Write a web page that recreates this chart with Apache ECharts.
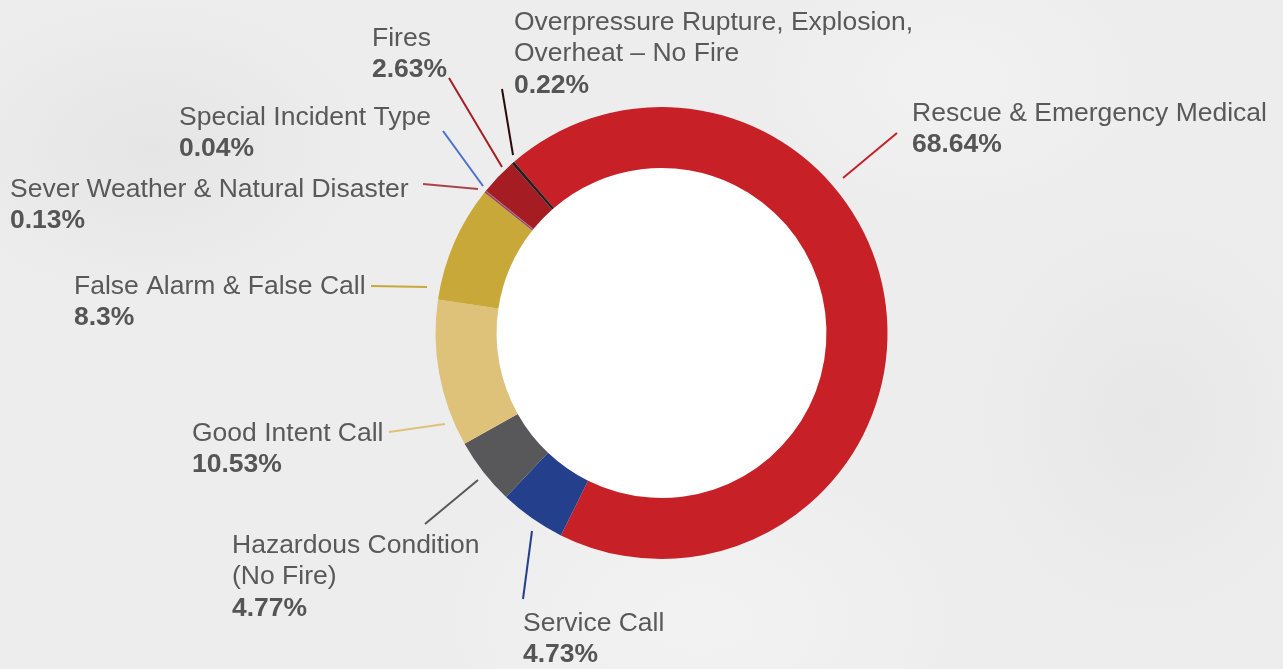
<!DOCTYPE html>
<html>
<head>
<meta charset="utf-8">
<script src="https://cdn.jsdelivr.net/npm/echarts@6/dist/echarts.min.js"></script>
<style>
  html, body { margin: 0; padding: 0; }
  body {
    width: 1283px; height: 669px; overflow: hidden;
    background-color: #ededed;
    background-image:
      radial-gradient(ellipse 320px 220px at 150px 150px, rgba(215,215,215,0.35), rgba(215,215,215,0) 70%),
      radial-gradient(ellipse 260px 300px at 1150px 420px, rgba(220,220,220,0.35), rgba(220,220,220,0) 70%),
      radial-gradient(ellipse 400px 250px at 700px 620px, rgba(248,248,248,0.5), rgba(248,248,248,0) 70%),
      radial-gradient(ellipse 300px 200px at 950px 80px, rgba(246,246,246,0.5), rgba(246,246,246,0) 70%);
  }
  #chart { width: 1283px; height: 669px; }
</style>
</head>
<body>
<div id="chart"></div>
<script>
// ---- data ----
const categories = [
  'Rescue & Emergency Medical',
  'Service Call',
  'Hazardous Condition\n(No Fire)',
  'Good Intent Call',
  'False Alarm & False Call',
  'Sever Weather & Natural Disaster',
  'Special Incident Type',
  'Fires',
  'Overpressure Rupture, Explosion,\nOverheat \u2013 No Fire'
];
const values = [68.64, 4.73, 4.77, 10.53, 8.3, 0.13, 0.04, 2.63, 0.22];
const percentLabels = ['68.64%', '4.73%', '4.77%', '10.53%', '8.3%', '0.13%', '0.04%', '2.63%', '0.22%'];

// ---- styles / layout ----
const colors = ['#c72027', '#243f8b', '#58585a', '#dfc27a', '#c9a83a', '#a4424e', '#4a72d0', '#a51d22', '#231f20'];
const lineColors = ['#c72027', '#243f8b', '#58585a', '#dfc27a', '#c9a83a', '#a84450', '#4a6fd4', '#a51d22', '#2a0a0a'];
const cx = 661.5, cy = 333;
const FONT = 26.5, LH = 31.5, BASE = 22.5;
// label text anchor (left x, first baseline) and guide line offsets relative to the pie centre
const spots = [
  { x: 912, b: 120, l: [[181.5, -155], [235.5, -200]] },
  { x: 523, b: 630, l: [[-129.5, 198], [-138.5, 266]] },
  { x: 232, b: 552, l: [[-183.5, 147], [-236.5, 191]] },
  { x: 192, b: 440, l: [[-216.5, 91], [-272.5, 99]] },
  { x: 74,  b: 293, l: [[-234.5, -46], [-290.5, -47]] },
  { x: 10,  b: 196, l: [[-183.5, -144], [-238.5, -149]] },
  { x: 179, b: 124, l: [[-178.5, -147], [-218.5, -202]] },
  { x: 372, b: 45,  l: [[-159.5, -166], [-212.5, -255]] },
  { x: 514, b: 29,  l: [[-148.5, -178], [-159.5, -244]] }
];

const chart = echarts.init(document.getElementById('chart'), null, { renderer: 'canvas' });

const pieData = categories.map((name, i) => ({
  name: name,
  value: values[i],
  itemStyle: { color: colors[i] },
  labelLine: { lineStyle: { color: lineColors[i], width: 2 } }
}));

chart.setOption({
  backgroundColor: 'transparent',
  animation: false,
  series: [
    {
      type: 'pie',
      center: [cx, cy],
      radius: [0, 165],
      silent: true,
      label: { show: false },
      labelLine: { show: false },
      itemStyle: { color: '#ffffff' },
      data: [{ value: 1, name: '' }],
      z: 1
    },
    {
      type: 'pie',
      center: [cx, cy],
      radius: [165, 226],
      startAngle: 130.7,
      clockwise: true,
      avoidLabelOverlap: false,
      silent: true,
      itemStyle: { borderWidth: 0 },
      label: {
        show: true,
        position: 'outside',
        formatter: function (p) {
          const lines = p.name.split('\n').map(s => '{n|' + s + '}');
          return lines.join('\n') + '\n{p|' + percentLabels[p.dataIndex] + '}';
        },
        rich: {
          n: { fontFamily: 'Liberation Sans, Arial, sans-serif', fontSize: FONT, lineHeight: LH, color: '#595959' },
          p: { fontFamily: 'Liberation Sans, Arial, sans-serif', fontSize: FONT, lineHeight: LH, color: '#555555', fontWeight: 'bold' }
        }
      },
      labelLine: { show: true, smooth: false, lineStyle: { width: 2 } },
      labelLayout: function (params) {
        const s = spots[params.dataIndex];
        return {
          x: s.x,
          y: s.b - BASE,
          align: 'left',
          verticalAlign: 'top',
          labelLinePoints: s.l.map(pt => [cx + pt[0], cy + pt[1]])
        };
      },
      data: pieData,
      z: 2
    }
  ]
});
</script>
</body>
</html>
